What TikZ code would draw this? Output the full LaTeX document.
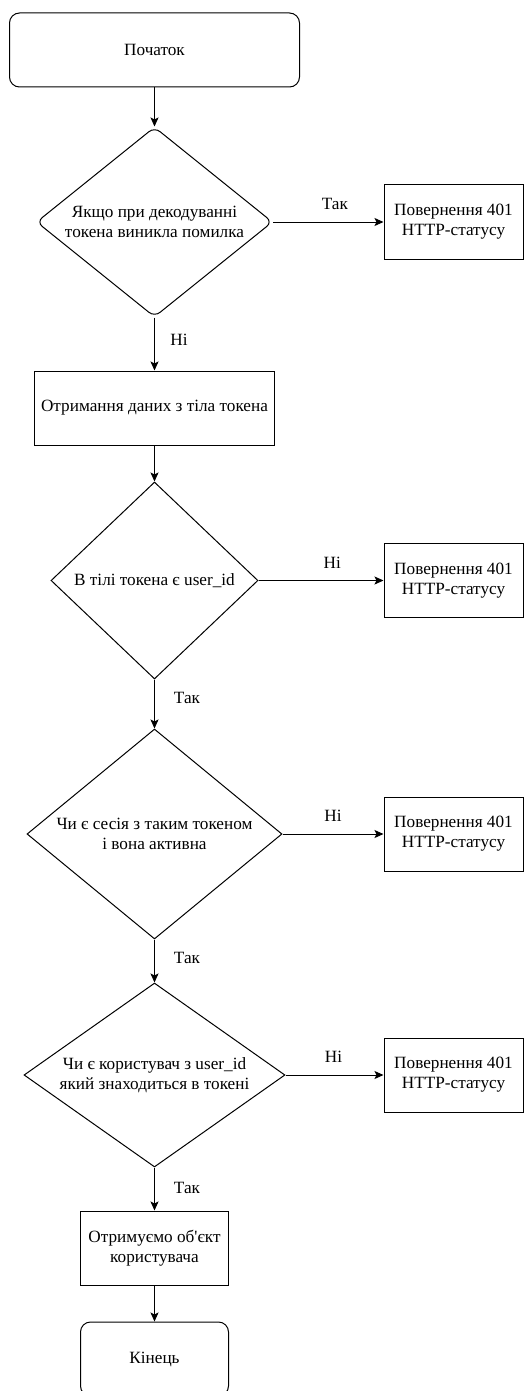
\documentclass[tikz,border=0pt]{standalone}
\usepackage{fontspec}
\setmainfont{Liberation Serif}[Ligatures=TeXOff]
\newfontfamily\flowfont{Liberation Serif}[Ligatures=TeXOff]
\usetikzlibrary{shapes.geometric,arrows.meta}
\begin{document}
\begin{tikzpicture}[x=1pt,y=-1pt,
  every node/.style={font=\flowfont\fontsize{17.2}{20}\selectfont},
  base/.style={draw, line width=1pt, inner sep=0pt, align=center},
  terminal/.style={base, rectangle, rounded corners=10pt, minimum width=148pt, minimum height=74pt},
  process/.style={base, rectangle, minimum height=74pt},
  decision/.style={base, diamond},
  reject/.style={base, rectangle, minimum width=139pt, minimum height=74pt},
  flow/.style={line width=1pt, -{Stealth[length=9pt,width=8pt,inset=2pt]}},
  lbl/.style={inner sep=0pt}
]
\useasboundingbox (0,0) rectangle (525,1391);

% main column
\node[terminal, minimum width=290pt] (start) at (154.5,50) {Початок};
\node[decision, rounded corners=7pt, minimum width=236pt, minimum height=190pt, shape aspect=1.24]
  (d1) at (154.5,222) {Якщо при декодуванні\\токена виникла помилка};
\node[process, minimum width=240pt] (read) at (154.5,408) {Отримання даних з тіла токена};
\node[decision, minimum width=207pt, minimum height=197pt, shape aspect=1.05]
  (d2) at (154.5,580.5) {В тілі токена є user\_id};
\node[decision, minimum width=255pt, minimum height=210pt, shape aspect=1.21]
  (d3) at (154.5,834) {Чи є сесія з таким токеном\\і вона активна};
\node[decision, minimum width=261pt, minimum height=184pt, shape aspect=1.42]
  (d4) at (154.5,1075) {Чи є користувач з user\_id\\який знаходиться в токені};
\node[process, minimum width=148pt] (user) at (154.5,1248) {Отримуємо об'єкт\\користувача};
\node[terminal] (stop) at (154.5,1359) {Кінець};

% error exits
\node[reject] (r1) at (453.5,222) {Повернення 401\\HTTP-статусу};
\node[reject] (r2) at (453.5,580.5) {Повернення 401\\HTTP-статусу};
\node[reject] (r3) at (453.5,834) {Повернення 401\\HTTP-статусу};
\node[reject] (r4) at (453.5,1075) {Повернення 401\\HTTP-статусу};

% connectors
\draw[flow] (start.south) -- (d1.north);
\draw[flow] (d1.south) -- node[lbl, pos=0.43, xshift=24.5pt] {Ні} (read.north);
\draw[flow] (read.south) -- (d2.north);
\draw[flow] (d2.south) -- node[lbl, pos=0.38, xshift=32.5pt] {Так} (d3.north);
\draw[flow] (d3.south) -- node[lbl, pos=0.43, xshift=32.5pt] {Так} (d4.north);
\draw[flow] (d4.south) -- node[lbl, pos=0.48, xshift=32.5pt] {Так} (user.north);
\draw[flow] (user.south) -- (stop.north);

\draw[flow] (d1.east) -- node[lbl, pos=0.56, yshift=18pt] {Так} (r1.west);
\draw[flow] (d2.east) -- node[lbl, pos=0.59, yshift=18pt] {Ні} (r2.west);
\draw[flow] (d3.east) -- node[lbl, pos=0.50, yshift=18pt] {Ні} (r3.west);
\draw[flow] (d4.east) -- node[lbl, pos=0.49, yshift=18pt] {Ні} (r4.west);
\end{tikzpicture}
\end{document}
